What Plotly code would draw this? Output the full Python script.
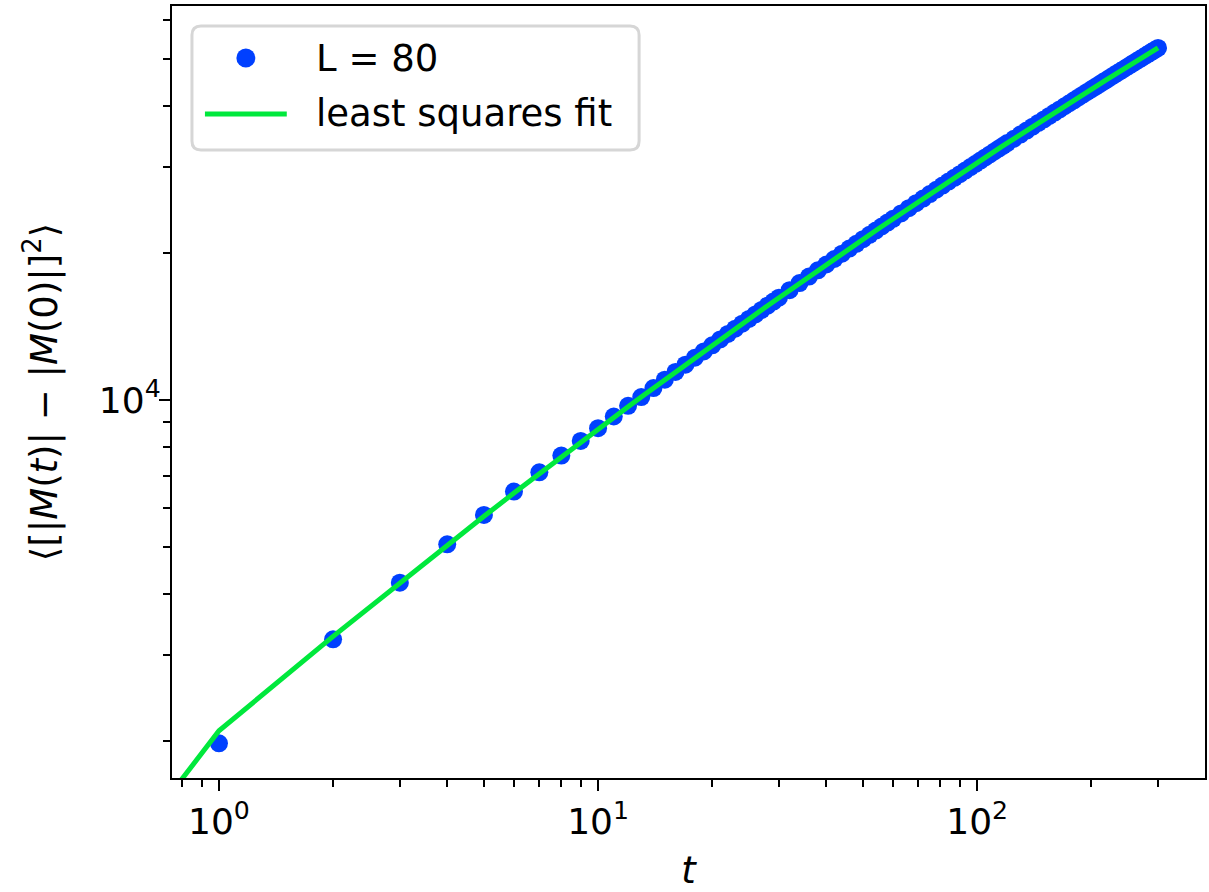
import numpy as np
import plotly.graph_objects as go

# ---- data ----
t_obs = [1, 2, 3, 4, 5, 6, 7, 8, 9, 10, 11, 12, 13, 14, 15, 16, 17, 18, 19, 20,
         21, 22, 23, 24, 25, 26, 27, 28, 29, 30, 32, 34, 36, 38, 40, 42, 44, 46, 48, 50,
         52, 54, 56, 58, 60, 63, 66, 69, 72, 75, 78, 81, 84, 87, 90, 93, 96, 99, 102, 105,
         108, 111, 114, 117, 120, 125, 130, 135, 140, 145, 150, 155, 160, 165, 170, 175, 180, 185, 190, 195,
         200, 205, 210, 215, 220, 225, 230, 235, 240, 245, 250, 255, 260, 265, 270, 275, 280, 285, 290, 295, 300]
msd_obs = [1979, 3233, 4223, 5061, 5811, 6489, 7108, 7691, 8241, 8750, 9247, 9727, 10134, 10574, 11000, 11410, 11810, 12200, 12570, 12940,
           13300, 13650, 13990, 14330, 14650, 14970, 15290, 15600, 15900, 16200, 16780, 17350, 17890, 18430, 18940, 19440, 19930, 20420, 20880, 21340,
           21790, 22230, 22660, 23090, 23500, 24100, 24710, 25290, 25850, 26400, 26950, 27490, 28010, 28510, 29010, 29500, 29990, 30460, 30930, 31390,
           31840, 32290, 32730, 33160, 33590, 34280, 34960, 35630, 36290, 36930, 37560, 38180, 38790, 39370, 39960, 40530, 41100, 41660, 42210, 42750,
           43280, 43800, 44320, 44830, 45330, 45830, 46320, 46810, 47290, 47750, 48220, 48690, 49140, 49590, 50040, 50470, 50920, 51340, 51770, 52190, 52610]

# least squares fit (quadratic in log-log space), evaluated on t = 0..300
fit_coeffs = [-0.036, 0.654, 3.322]   # log10(y) = c0*x^2 + c1*x + c2, x = log10(t)
t_fit_max = 300

series_names = ["L = 80", "least squares fit"]

x_ticks = [1, 10, 100]
x_tick_text = ["10<sup>0</sup>", "10<sup>1</sup>", "10<sup>2</sup>"]
x_minor = [0.8, 0.9, 2, 3, 4, 5, 6, 7, 8, 9, 20, 30, 40, 50, 60, 70, 80, 90, 200, 300]
y_ticks = [10000]
y_tick_text = ["10<sup>4</sup>"]
y_minor = [2000, 3000, 4000, 5000, 6000, 7000, 8000, 9000, 20000, 30000, 40000, 50000, 60000]

# ---- fit curve (matplotlib-like clipping of non-positive values on log axes) ----
t_fit = np.arange(0, t_fit_max + 1, dtype=float)
with np.errstate(divide="ignore", invalid="ignore"):
    lt = np.log10(t_fit)
    y_fit = 10 ** np.polyval(fit_coeffs, lt)
y_fit = np.where(np.isfinite(y_fit) & (y_fit > 0), y_fit, 1e-300)
t_fit_plot = np.where(t_fit > 0, t_fit, 1e-300)

FONT = "DejaVu Sans"
BLUE = "#0040ff"
GREEN = "#00e83c"

W, H = 1209, 892
ML, MR, MT, MB = 172, 2, 6, 114
PW, PH = W - ML - MR, H - MT - MB


def px(x):
    return (x - ML) / PW


def py(y):
    return 1 - (y - MT) / PH


fig = go.Figure()
fig.add_trace(go.Scatter(
    x=t_obs, y=msd_obs, mode="markers", name=series_names[0],
    marker=dict(color=BLUE, size=18, line=dict(width=0)), showlegend=False,
))
fig.add_trace(go.Scatter(
    x=t_fit_plot, y=y_fit, mode="lines", name=series_names[1],
    line=dict(color=GREEN, width=5), showlegend=False,
))

axis_common = dict(
    type="log", showgrid=False, zeroline=False,
    showline=True, linecolor="black", linewidth=2.2, mirror=True,
    ticks="outside", ticklen=11, tickwidth=2.2, tickcolor="black",
    tickfont=dict(family=FONT, size=36, color="black"),
    tickmode="array",
)

fig.update_xaxes(
    **axis_common,
    range=[-0.1239, 2.601],
    tickvals=x_ticks, ticktext=x_tick_text,
    minor=dict(tickmode="array", tickvals=x_minor, ticks="outside", ticklen=6.5,
               tickwidth=1.7, tickcolor="black", showgrid=False),
    title=dict(text="<i>t</i>", font=dict(family=FONT, size=37, color="black"), standoff=20),
)
fig.update_yaxes(
    **axis_common,
    range=[3.2254, 4.807],
    tickvals=y_ticks, ticktext=y_tick_text,
    ticklabelstandoff=-9,
    minor=dict(tickmode="array", tickvals=y_minor, ticks="outside", ticklen=6.5,
               tickwidth=1.7, tickcolor="black", showgrid=False),
    title=dict(text="⟨[|<i>M</i>(<i>t</i>)| − |<i>M</i>(0)|]<sup>2</sup>⟩",
               font=dict(family=FONT, size=37, color="black"), standoff=30),
)

# ---- legend drawn like matplotlib's (rounded frame, long line handle) ----
bx0, bx1, by0, by1, r = 192, 640, 26, 150, 9
path = (
    f"M {px(bx0 + r)},{py(by0)} L {px(bx1 - r)},{py(by0)} "
    f"Q {px(bx1)},{py(by0)} {px(bx1)},{py(by0 + r)} "
    f"L {px(bx1)},{py(by1 - r)} Q {px(bx1)},{py(by1)} {px(bx1 - r)},{py(by1)} "
    f"L {px(bx0 + r)},{py(by1)} Q {px(bx0)},{py(by1)} {px(bx0)},{py(by1 - r)} "
    f"L {px(bx0)},{py(by0 + r)} Q {px(bx0)},{py(by0)} {px(bx0 + r)},{py(by0)} Z"
)
shapes = [
    dict(type="path", xref="paper", yref="paper", path=path,
         line=dict(color="#d6d6d6", width=3), fillcolor="rgba(255,255,255,0.8)", layer="above"),
    dict(type="circle", xref="paper", yref="paper",
         x0=px(246 - 9.5), x1=px(246 + 9.5), y0=py(58 + 9.5), y1=py(58 - 9.5),
         fillcolor=BLUE, line=dict(width=0), layer="above"),
    dict(type="line", xref="paper", yref="paper",
         x0=px(205), x1=px(287), y0=py(114), y1=py(114),
         line=dict(color=GREEN, width=5), layer="above"),
]
annotations = [
    dict(text=series_names[0], xref="paper", yref="paper", x=px(314), y=py(58),
         xanchor="left", yanchor="middle", showarrow=False,
         font=dict(family=FONT, size=37, color="black")),
    dict(text=series_names[1], xref="paper", yref="paper", x=px(314), y=py(113),
         xanchor="left", yanchor="middle", showarrow=False,
         font=dict(family=FONT, size=37, color="black")),
]

fig.update_layout(
    width=W, height=H,
    margin=dict(l=ML, r=MR, t=MT, b=MB),
    paper_bgcolor="white", plot_bgcolor="white",
    font=dict(family=FONT, color="black"),
    showlegend=False,
    shapes=shapes, annotations=annotations,
)

fig.write_html("out.html")
